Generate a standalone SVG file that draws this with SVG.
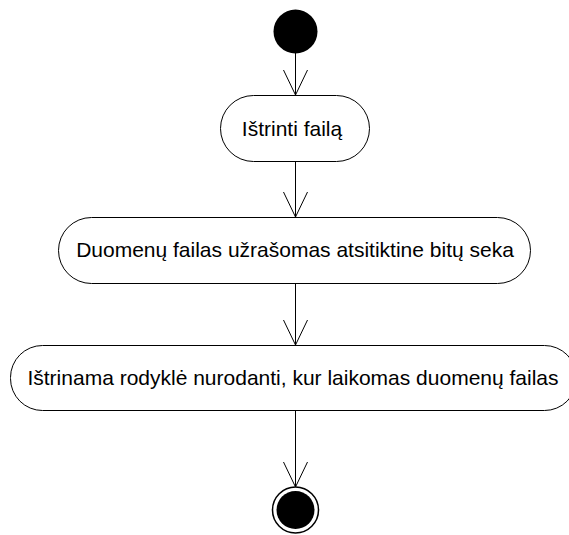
<svg xmlns="http://www.w3.org/2000/svg" width="569" height="535" viewBox="0 0 569 535">
  <defs>
    <style>
      .act { fill: #ffffff; stroke: #000000; stroke-width: 1; }
      .lbl { font-family: "Liberation Sans", Arial, sans-serif; font-size: 21px; fill: #000000; text-anchor: middle; }
      .flow { stroke: #000000; stroke-width: 1; fill: none; }
    </style>
    <marker id="open" viewBox="0 0 26 26" refX="25" refY="13" markerWidth="26" markerHeight="26" markerUnits="userSpaceOnUse" orient="auto">
      <path d="M0,1 L25,13 L0,25" fill="none" stroke="#000000" stroke-width="1"/>
    </marker>
  </defs>

  <g id="connectors">
    <line class="flow" x1="295.5" y1="53" x2="295.5" y2="95" marker-end="url(#open)"/>
    <line class="flow" x1="295.5" y1="162" x2="295.5" y2="217" marker-end="url(#open)"/>
    <line class="flow" x1="295.5" y1="283" x2="295.5" y2="345" marker-end="url(#open)"/>
    <line class="flow" x1="295.5" y1="410" x2="295.5" y2="487" marker-end="url(#open)"/>
  </g>

  <g id="start">
    <circle cx="295.5" cy="31.5" r="22" fill="#000000"/>
  </g>

  <g id="a1">
    <rect class="act" x="220.5" y="95.5" width="149" height="66" rx="33" ry="33"/>
    <text class="lbl" x="292" y="135.5">Ištrinti failą</text>
  </g>

  <g id="a2">
    <rect class="act" x="58.5" y="217.5" width="472" height="66" rx="33" ry="33"/>
    <text class="lbl" x="295" y="257">Duomenų failas užrašomas atsitiktine bitų seka</text>
  </g>

  <g id="a3">
    <rect class="act" x="10.5" y="345.5" width="566" height="65" rx="32" ry="32"/>
    <text class="lbl" x="293" y="384.5">Ištrinama rodyklė nurodanti, kur laikomas duomenų failas</text>
  </g>

  <g id="end">
    <circle cx="295.5" cy="510" r="23" fill="#ffffff" stroke="#000000" stroke-width="1.5"/>
    <circle cx="295.5" cy="510" r="19" fill="#000000"/>
  </g>
</svg>
